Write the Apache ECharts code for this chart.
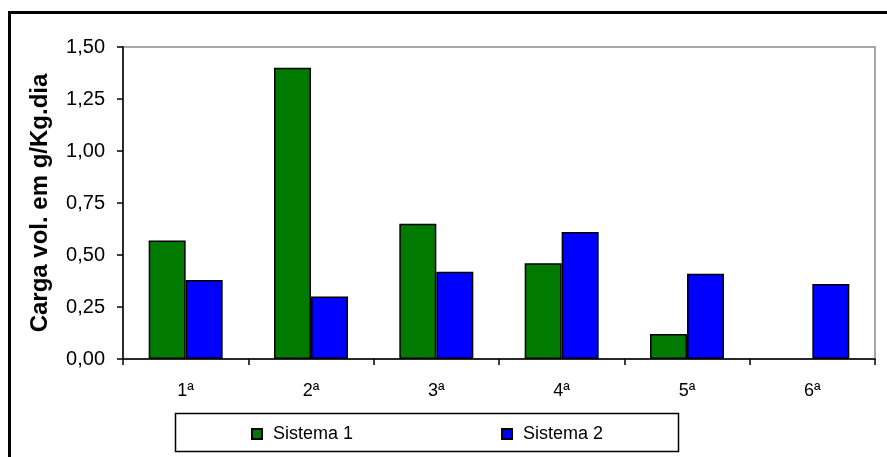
<!DOCTYPE html>
<html>
<head>
<meta charset="utf-8">
<script src="https://cdn.jsdelivr.net/npm/echarts@6/dist/echarts.min.js"></script>
<style>
  html, body { margin: 0; padding: 0; background: #fff; }
  #chart { width: 887px; height: 457px; }
</style>
</head>
<body>
<div id="chart"></div>
<script>
// Semana de coleta
const categories = ['1ª', '2ª', '3ª', '4ª', '5ª', '6ª'];
// Carga volumétrica (g/Kg.dia)
const sistema1 = [0.57, 1.40, 0.65, 0.46, 0.12, null];
const sistema2 = [0.38, 0.30, 0.42, 0.61, 0.41, 0.36];
const yTicks = { min: 0, max: 1.5, interval: 0.25 };

const font = 'Arial, "Liberation Sans", sans-serif';
const chart = echarts.init(document.getElementById('chart'));

chart.setOption({
  animation: false,
  backgroundColor: '#ffffff',
  grid: {
    left: 123, top: 47, right: 12, bottom: 98,
    show: true, borderColor: '#a6a6a6', borderWidth: 2, backgroundColor: 'transparent'
  },
  legend: {
    left: 246, top: 420,
    itemWidth: 10, itemHeight: 10, itemGap: 148,
    icon: 'rect',
    textStyle: { fontFamily: font, fontSize: 18, color: '#000', padding: [0, 0, 0, 6] },
    data: ['Sistema 1', 'Sistema 2']
  },
  xAxis: {
    type: 'category',
    data: categories,
    axisLine: { lineStyle: { color: '#000', width: 1.5 } },
    axisTick: { show: true, length: 6, lineStyle: { color: '#000', width: 1.5 } },
    axisLabel: { color: '#000', fontFamily: font, fontSize: 18, margin: 23 }
  },
  yAxis: {
    type: 'value',
    min: yTicks.min, max: yTicks.max, interval: yTicks.interval,
    name: 'Carga vol. em g/Kg.dia',
    nameLocation: 'middle',
    nameGap: 71,
    nameRotate: 90,
    nameTextStyle: { fontFamily: font, fontSize: 24, fontWeight: 'bold', color: '#000' },
    splitLine: { show: false },
    axisLine: { show: true, lineStyle: { color: '#000', width: 1.5 } },
    axisTick: { show: true, length: 6, lineStyle: { color: '#000', width: 1.5 } },
    axisLabel: {
      color: '#000', fontFamily: font, fontSize: 20, margin: 18,
      formatter: v => v.toFixed(2).replace('.', ',')
    }
  },
  series: [
    {
      name: 'Sistema 1', type: 'bar', data: sistema1,
      barWidth: 37, barGap: '0%',
      itemStyle: { color: '#007a00', borderColor: '#000', borderWidth: 1.5 }
    },
    {
      name: 'Sistema 2', type: 'bar', data: sistema2,
      barWidth: 37, barGap: '0%',
      itemStyle: { color: '#0000ff', borderColor: '#000', borderWidth: 1.5 }
    }
  ],
  graphic: [
    {
      type: 'rect', silent: true,
      shape: { x: 9.5, y: 12.5, width: 900, height: 460 },
      style: { fill: 'none', stroke: '#000', lineWidth: 3 }
    },
    {
      type: 'rect', silent: true,
      shape: { x: 175.5, y: 413.5, width: 503, height: 38 },
      style: { fill: 'none', stroke: '#000', lineWidth: 1.5 }
    }
  ]
});
</script>
</body>
</html>
